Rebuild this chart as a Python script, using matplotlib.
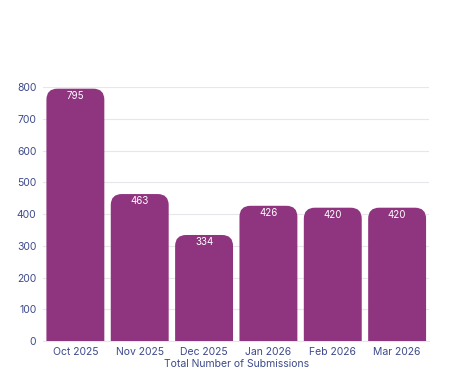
import matplotlib.pyplot as plt
from matplotlib.patches import FancyBboxPatch

months = ['Oct 2025', 'Nov 2025', 'Dec 2025', 'Jan 2026', 'Feb 2026', 'Mar 2026']
submissions = [795, 463, 334, 426, 420, 420]

bar_color = '#8f3580'
text_color = '#3d4a8c'

plt.rcParams['font.family'] = ['Inter', 'DejaVu Sans']

fig = plt.figure(figsize=(4.5, 3.77), dpi=100)
ax = fig.add_axes([0.096, 0.0955, 0.858, 0.6735])

ax.set_xlim(-0.5, len(months) - 0.5)
ax.set_ylim(0, 800)

# rounded top corners: radius ~11 px
px_x = 0.858 * 450 / len(months)
px_y = 0.6735 * 377 / 800
r = 11 / px_x
aspect = (11 / px_y) / r
width = 0.9
for i, v in enumerate(submissions):
    p = FancyBboxPatch((i - width / 2, -60), width, v + 60,
                       boxstyle=f'round,pad=0,rounding_size={r}',
                       mutation_aspect=aspect, facecolor=bar_color,
                       edgecolor='none', zorder=3)
    ax.add_patch(p)
    ax.text(i, v - 6, str(v), ha='center', va='top', color='white', fontsize=7, zorder=4)

ax.set_yticks(range(0, 801, 100))
ax.set_xticks(range(len(months)))
ax.set_xticklabels(months)
ax.tick_params(axis='both', length=0, labelsize=7.5, colors=text_color)
ax.tick_params(axis='x', pad=4)
ax.tick_params(axis='y', pad=5)
ax.grid(axis='y', color='#e6e6ec', linewidth=0.8, zorder=0)
for s in ['top', 'right', 'left']:
    ax.spines[s].set_visible(False)
ax.spines['bottom'].set_color('#e6e6ec')
ax.set_xlabel('Total Number of Submissions', color=text_color, fontsize=7.5, labelpad=2)

fig.savefig('out.png', dpi=100)
